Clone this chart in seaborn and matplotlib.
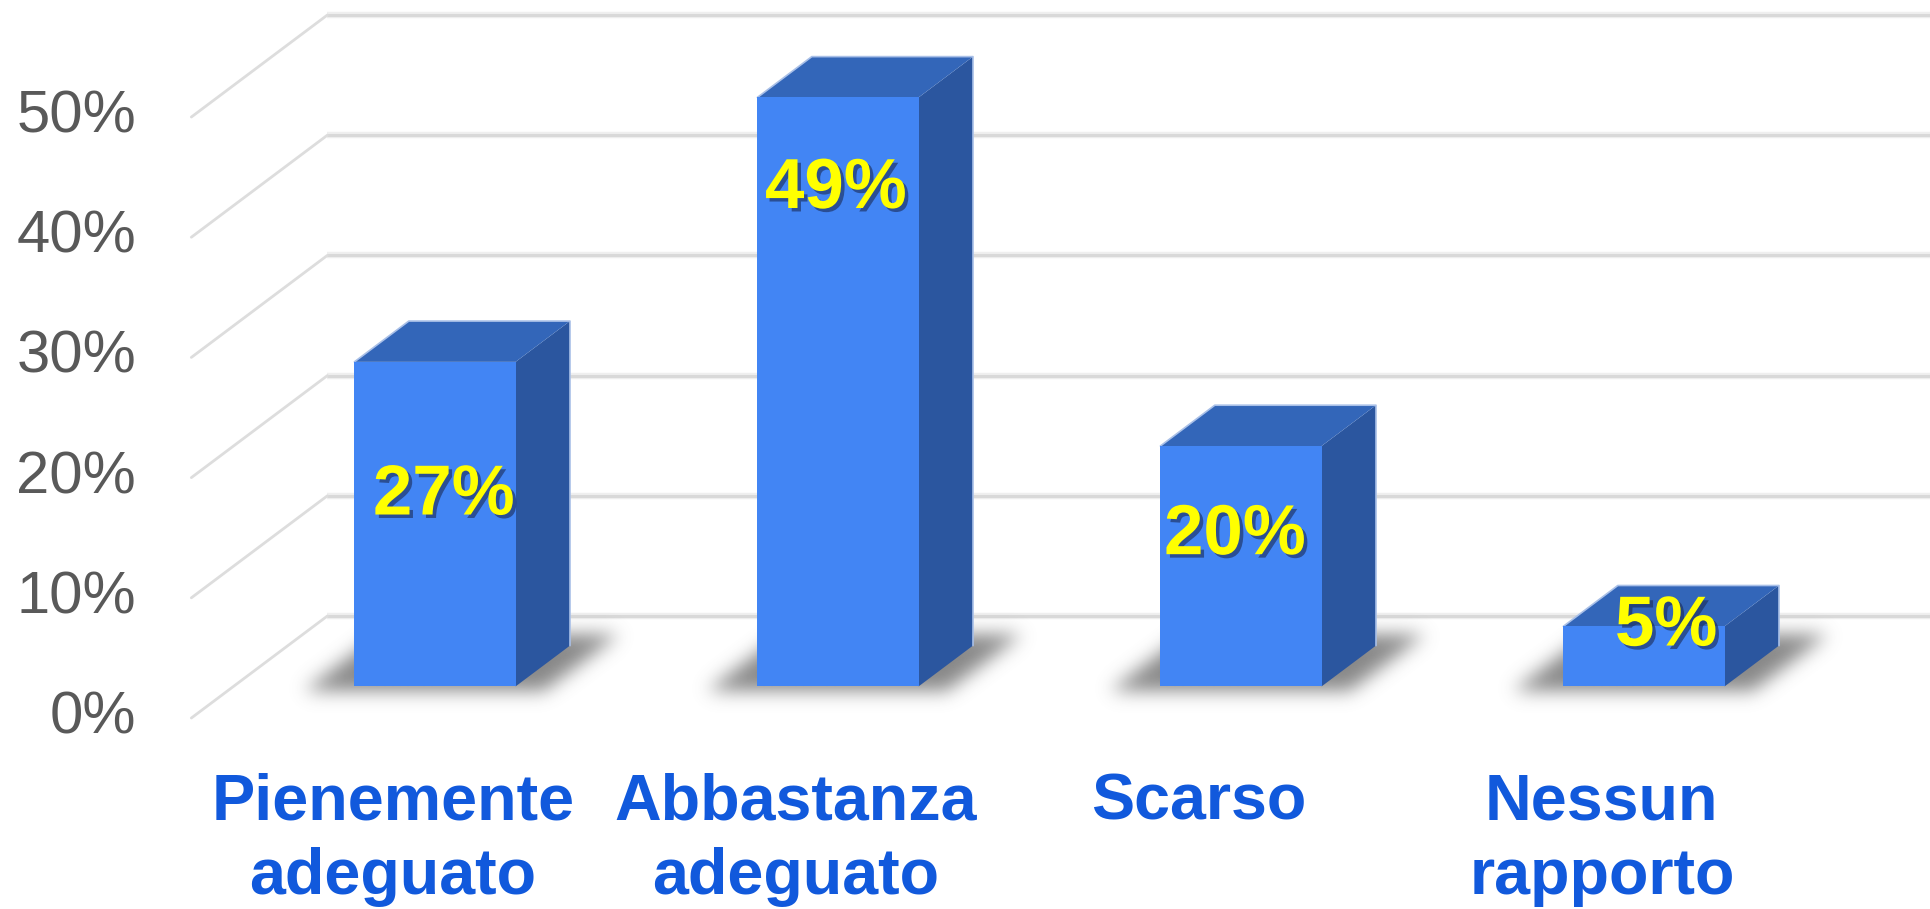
import numpy as np
import pandas as pd
import matplotlib
matplotlib.use("Agg")
import matplotlib.pyplot as plt
import matplotlib.patheffects as pe
from matplotlib.patches import Polygon
import seaborn as sns

# ---- data -----------------------------------------------------------------
categories = ["Pienemente\nadeguato", "Abbastanza\nadeguato", "Scarso", "Nessun\nrapporto"]
values = [27, 49, 20, 5]
value_labels = ["27%", "49%", "20%", "5%"]
y_ticks = [0, 10, 20, 30, 40, 50]
y_tick_labels = ["0%", "10%", "20%", "30%", "40%", "50%"]

# ---- layout (pixels of the 1931x909 canvas) -----------------------------
W, H = 1931, 909
X0, XS = 435.0, 403.0        # x of first bar face centre, px per category
Y0, YS = 686.4, 12.02        # y (from top) of bar base, px per percentage point
DX, DY = 136.0 / XS, 102.0 / YS   # depth vector of the floor, in data units
D0 = 0.31                    # depth of the bar front faces
BD = 0.40                    # bar depth (fraction of floor depth)
BAR_W = 0.40

# per-label placement of the value labels (baseline below bar top, x nudge)
label_drop = [12.7, 9.2, 9.0, 1.6]
label_nudge = [0.022, -0.005, -0.015, 0.055]

FRONT = "#4285F4"
SIDE = "#2B569F"
TOP = "#3366B9"
GRID = "#D9D9D9"
TICK_GRAY = "#595959"
CAT_BLUE = "#1159DC"

sns.set_theme(style="white")
plt.rcParams["font.family"] = ["Liberation Sans", "DejaVu Sans"]

fig = plt.figure(figsize=(W / 100, H / 100), dpi=100)
ax = fig.add_axes([0, 0, 1, 1])

# ---- bars (front faces) ---------------------------------------------------
df = pd.DataFrame({"category": categories, "value": values})
sns.barplot(data=df, x="category", y="value", width=BAR_W, color=FRONT,
            saturation=1, ax=ax, zorder=5, linewidth=0, edgecolor="none")

xmin, xmax = (0 - X0) / XS, (W - X0) / XS
ymin, ymax = (Y0 - H) / YS, Y0 / YS

# ---- walls and gridlines ----------------------------------------------------
back_dx, back_dy = (1 - D0) * DX, (1 - D0) * DY
front_dx, front_dy = -D0 * DX, -D0 * DY
left_back = -0.5 + back_dx
left_front = -0.5 + front_dx
for t, tl in zip(y_ticks, y_tick_labels):
    ax.plot([left_back, xmax + 1], [t + back_dy] * 2, color="#EFEFEF",
            lw=4.6, solid_capstyle="butt", zorder=0.5)
    ax.plot([left_back, xmax + 1], [t + back_dy] * 2, color=GRID,
            lw=2.2, solid_capstyle="butt", zorder=1)
    ax.plot([left_front, left_back], [t + front_dy, t + back_dy],
            color="#DDDDDD", lw=2.0, zorder=1)
    ax.text((136 - X0) / XS, t + front_dy, tl, ha="right", va="center",
            fontsize=43, color=TICK_GRAY)


# ---- soft floor shadows -------------------------------------------------------
def gaussian_kernel(sigma):
    r = int(3 * sigma)
    k = np.exp(-0.5 * (np.arange(-r, r + 1) / sigma) ** 2)
    return k / k.sum()


def floor_shadow(cx):
    x_lo, x_hi = cx - 0.55, cx + 0.7
    y_lo, y_hi = -3.0, 7.5
    nx, ny = int((x_hi - x_lo) * XS), int((y_hi - y_lo) * YS)
    GX, GY = np.meshgrid(np.linspace(x_lo, x_hi, nx), np.linspace(y_lo, y_hi, ny))
    f, b = -0.45, 4.3
    t = (GY - f) / DY
    xl = cx - 0.325 + t * DX
    xr = cx + 0.27 + t * DX
    mask = ((GY >= f) & (GY <= b) & (GX >= xl) & (GX <= xr)).astype(float)
    k = gaussian_kernel(9.0)
    mask = np.apply_along_axis(lambda m: np.convolve(m, k, mode="same"), 1, mask)
    mask = np.apply_along_axis(lambda m: np.convolve(m, k, mode="same"), 0, mask)
    rgba = np.zeros((ny, nx, 4))
    rgba[..., :3] = 0.4
    rgba[..., 3] = np.clip(mask, 0, 1) * 0.78
    ax.imshow(rgba, extent=(x_lo, x_hi, y_lo, y_hi), origin="lower",
              aspect="auto", zorder=2, interpolation="bilinear")


bars = sorted([p for p in ax.patches], key=lambda p: p.get_x())
ddx, ddy = BD * DX, BD * DY
for p in bars:
    x0, w, h = p.get_x(), p.get_width(), p.get_height()
    floor_shadow(x0 + w / 2)
    # side face
    ax.add_patch(Polygon([(x0 + w, 0), (x0 + w + ddx, ddy), (x0 + w + ddx, h + ddy),
                          (x0 + w, h)], closed=True, facecolor=SIDE,
                         edgecolor="none", zorder=4))
    # top face
    ax.add_patch(Polygon([(x0, h), (x0 + w, h), (x0 + w + ddx, h + ddy),
                          (x0 + ddx, h + ddy)], closed=True, facecolor=TOP,
                         edgecolor="none", zorder=4))
    # light rim along the outer edges
    ax.plot([x0, x0 + ddx, x0 + w + ddx, x0 + w + ddx],
            [h, h + ddy, h + ddy, ddy], color="#A9C0E8", lw=1.2, zorder=4.5)

# ---- value labels -------------------------------------------------------------
for i, (p, lab) in enumerate(zip(bars, value_labels)):
    cx = p.get_x() + p.get_width() / 2 + label_nudge[i]
    ax.text(cx, p.get_height() - label_drop[i], lab, ha="center", va="baseline",
            fontsize=51, fontweight="bold", color="#FFFF00", zorder=8,
            path_effects=[pe.SimplePatchShadow(offset=(2.5, -2.5),
                                               shadow_rgbFace="#1a2a55", alpha=0.6),
                          pe.Normal()])

# ---- category labels ----------------------------------------------------------
line_base = [(Y0 - 820) / YS, (Y0 - 894) / YS]
for i, cat in enumerate(categories):
    for j, line in enumerate(cat.split("\n")):
        ax.text(i + front_dx, line_base[j], line, ha="center", va="baseline",
                fontsize=46.5, fontweight="bold", color=CAT_BLUE)

ax.set_xlim(xmin, xmax)
ax.set_ylim(ymin, ymax)
ax.set_axis_off()

fig.savefig("out.png", dpi=100, facecolor="white")
